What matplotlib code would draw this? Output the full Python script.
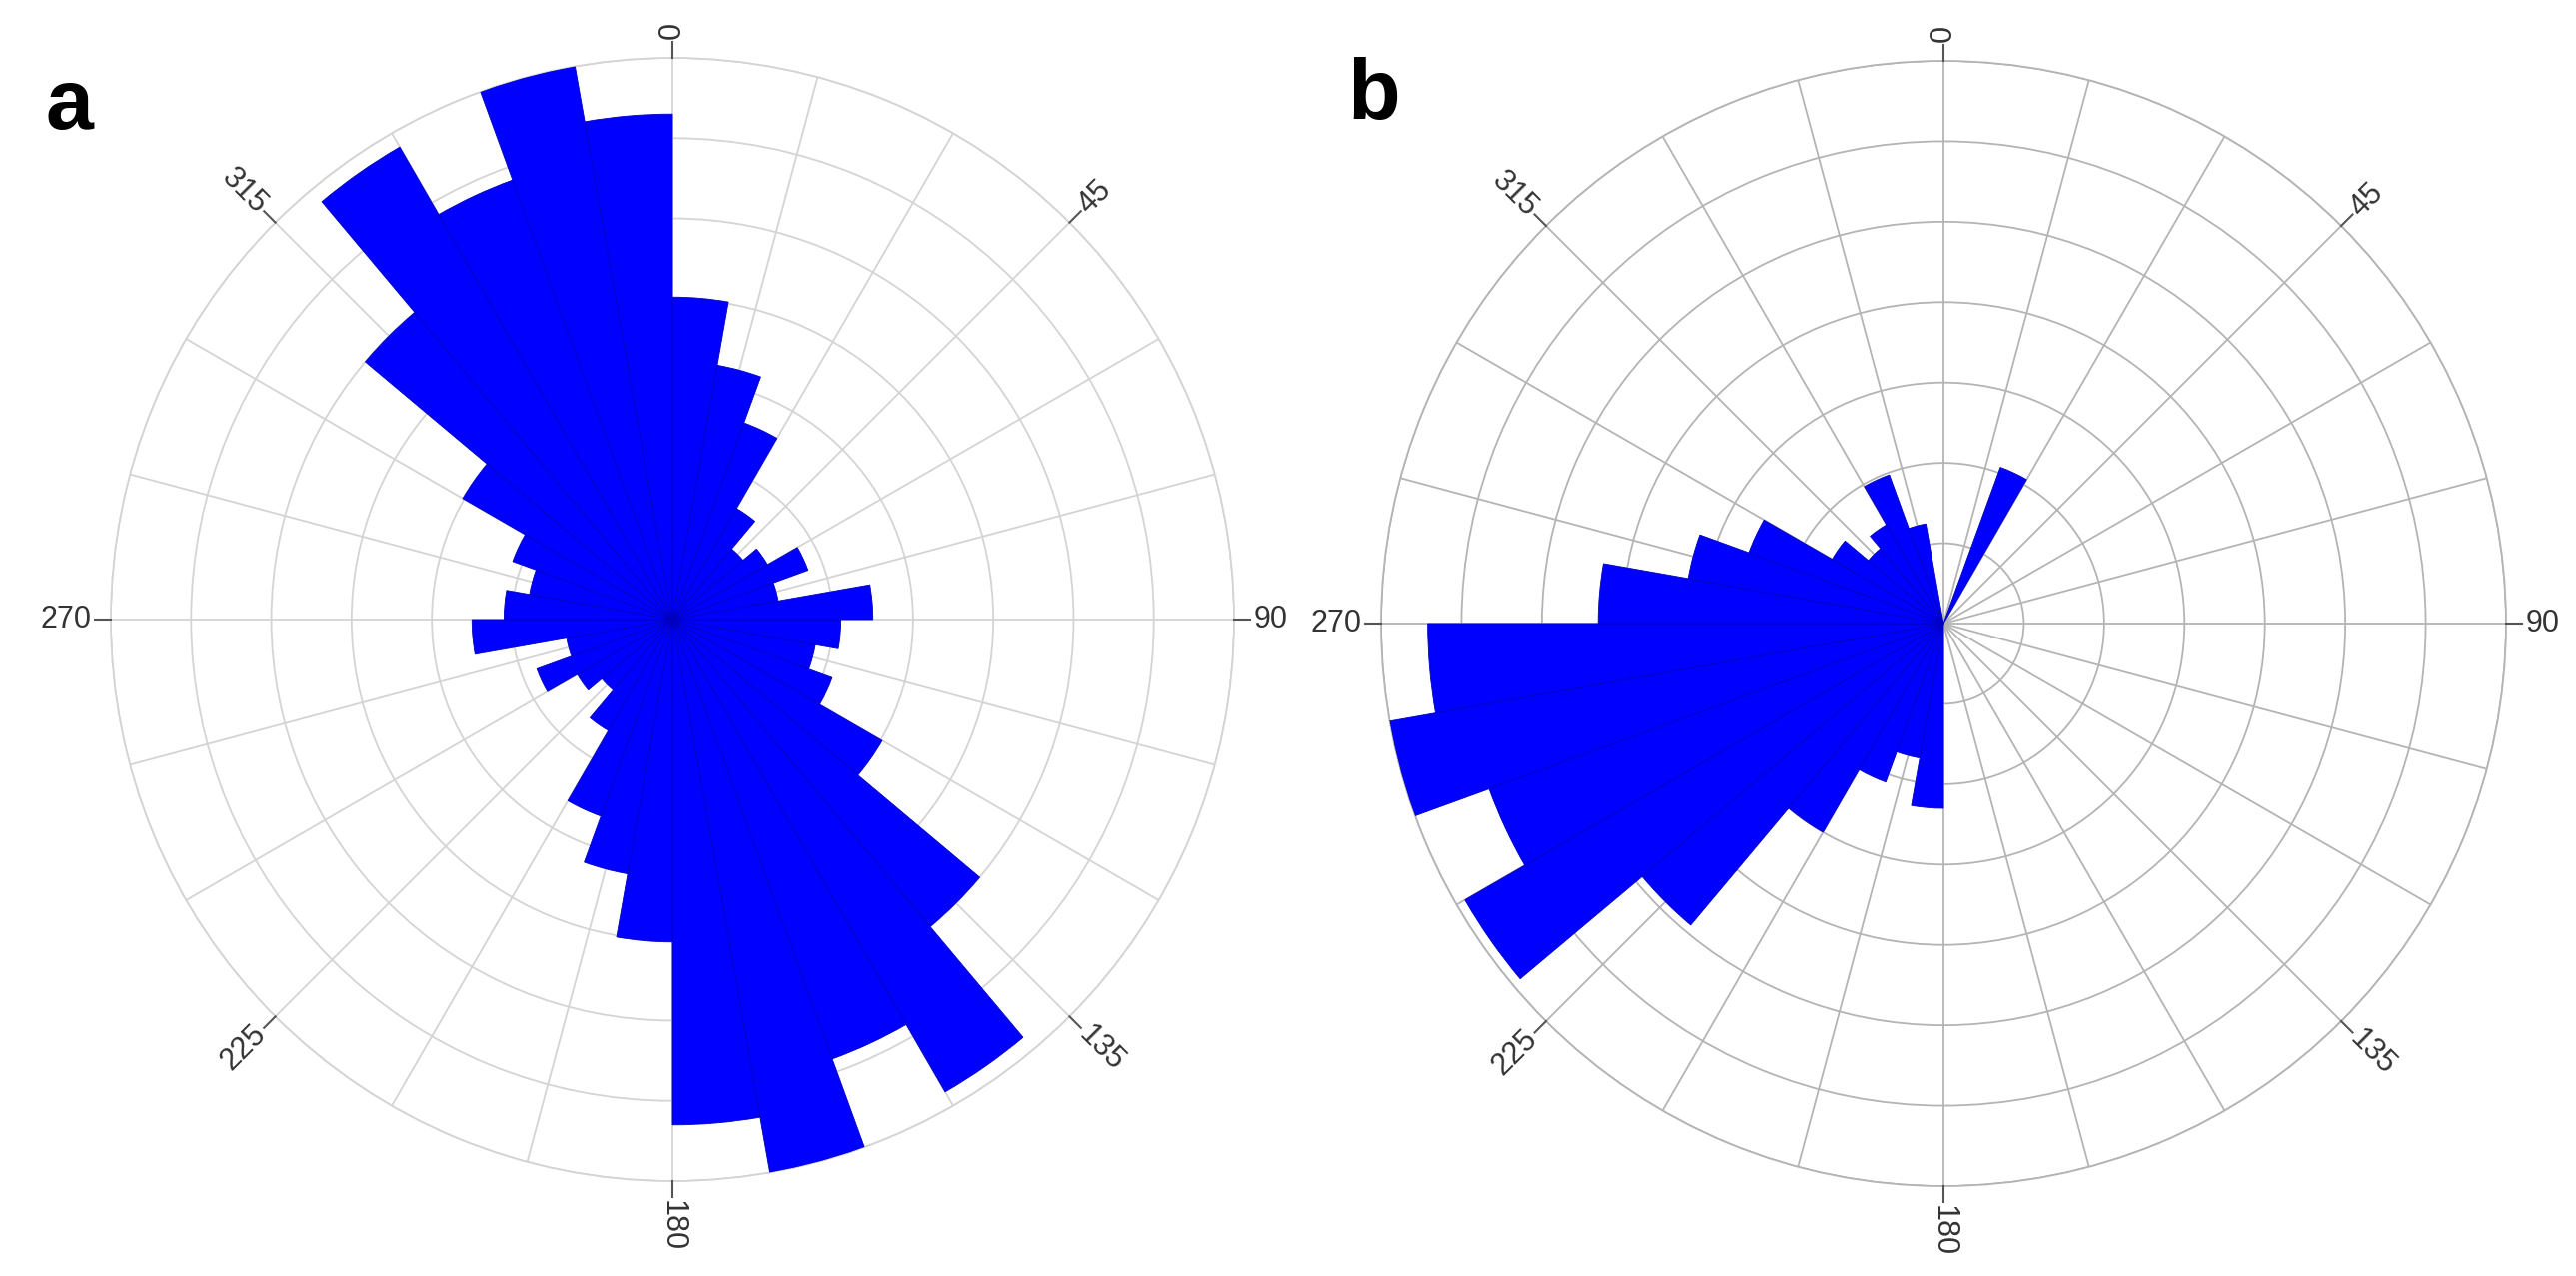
import numpy as np
import matplotlib
matplotlib.use("Agg")
import matplotlib.pyplot as plt

plt.rcParams['font.family'] = ['Liberation Sans', 'DejaVu Sans']

# 10-degree bins, clockwise from north
bin_start = np.arange(0, 360, 10)

# panel a: bar lengths in ring units (7 rings)
rose_a = [4.02, 3.22, 2.61, 1.60, 1.15, 1.37, 1.80, 1.34, 2.50,
          2.10, 1.81, 2.12, 3.02, 5.00, 6.80, 5.83, 7.00, 6.30,
          4.02, 3.22, 2.61, 1.60, 1.15, 1.37, 1.80, 1.34, 2.50,
          2.10, 1.81, 2.12, 3.02, 5.00, 6.80, 5.83, 7.00, 6.30]

# panel b
rose_b = [0.00, 0.00, 2.07, 0.00, 0.00, 0.00, 0.00, 0.00, 0.00,
          0.00, 0.00, 0.00, 0.00, 0.00, 0.00, 0.00, 0.00, 0.00,
          2.30, 1.70, 2.10, 3.00, 4.90, 6.88, 6.02, 7.00, 6.42,
          4.30, 3.23, 2.58, 1.60, 1.22, 1.42, 1.97, 1.26, 0.00]

tick_angles = [0, 45, 90, 135, 180, 225, 270, 315]
tick_labels = ['0', '45', '90', '135', '180', '225', '270', '315']
panel_names = ['a', 'b']

W, H = 2578, 1277
fig = plt.figure(figsize=(W / 100, H / 100), dpi=100)

# (center x, center y from top, radius) in pixels
boxes = [(673, 620, 562), (1945, 624, 563)]
grid_cols = ['#d4d4d4', '#b4b4b4']
rmax = 7.0


def rose(ax, values, gcol):
    ax.set_theta_zero_location('N')
    ax.set_theta_direction(-1)
    ax.set_ylim(0, rmax)
    ax.set_rticks(np.arange(1, 8))
    ax.set_yticklabels([])
    ax.set_thetagrids(np.arange(0, 360, 15), labels=[''] * 24)
    ax.grid(True, color=gcol, lw=1.3)
    ax.spines['polar'].set_color(gcol)
    ax.spines['polar'].set_linewidth(1.3)
    ax.set_axisbelow(True)
    ax.tick_params(axis='x', length=0, pad=0)

    theta = np.deg2rad(bin_start + 5)
    ax.bar(theta, values, width=np.deg2rad(10), bottom=0,
           color='#0000ff', edgecolor='#0000c0', linewidth=0.6, zorder=3)

    for ang, lab in zip(tick_angles, tick_labels):
        t = np.deg2rad(ang)
        ax.plot([t, t], [rmax, rmax + 0.2], color='#555555', lw=1.5,
                clip_on=False, zorder=4)
        m = (90 - ang) % 360  # math angle of the spoke
        rot = m if m <= 90 else (m - 180 if m < 270 else m - 360)
        outward = ang in (0, 45, 90, 135, 180)
        ax.text(t, rmax + 0.24, lab, rotation=rot, rotation_mode='anchor',
                ha='left' if outward else 'right', va='center',
                fontsize=22, color='#333333', clip_on=False)


for (cx, cy, R), vals, gcol, name in zip(boxes, [rose_a, rose_b], grid_cols, panel_names):
    ax = fig.add_axes([(cx - R) / W, (H - cy - R) / H, 2 * R / W, 2 * R / H],
                      projection='polar')
    rose(ax, vals, gcol)

fig.text(46 / W, 1 - 107 / H, 'a', fontsize=62, fontweight='bold', va='center', ha='left')
fig.text(1348 / W, 1 - 97 / H, 'b', fontsize=62, fontweight='bold', va='center', ha='left')

fig.savefig('out.png', dpi=100, facecolor='white')
